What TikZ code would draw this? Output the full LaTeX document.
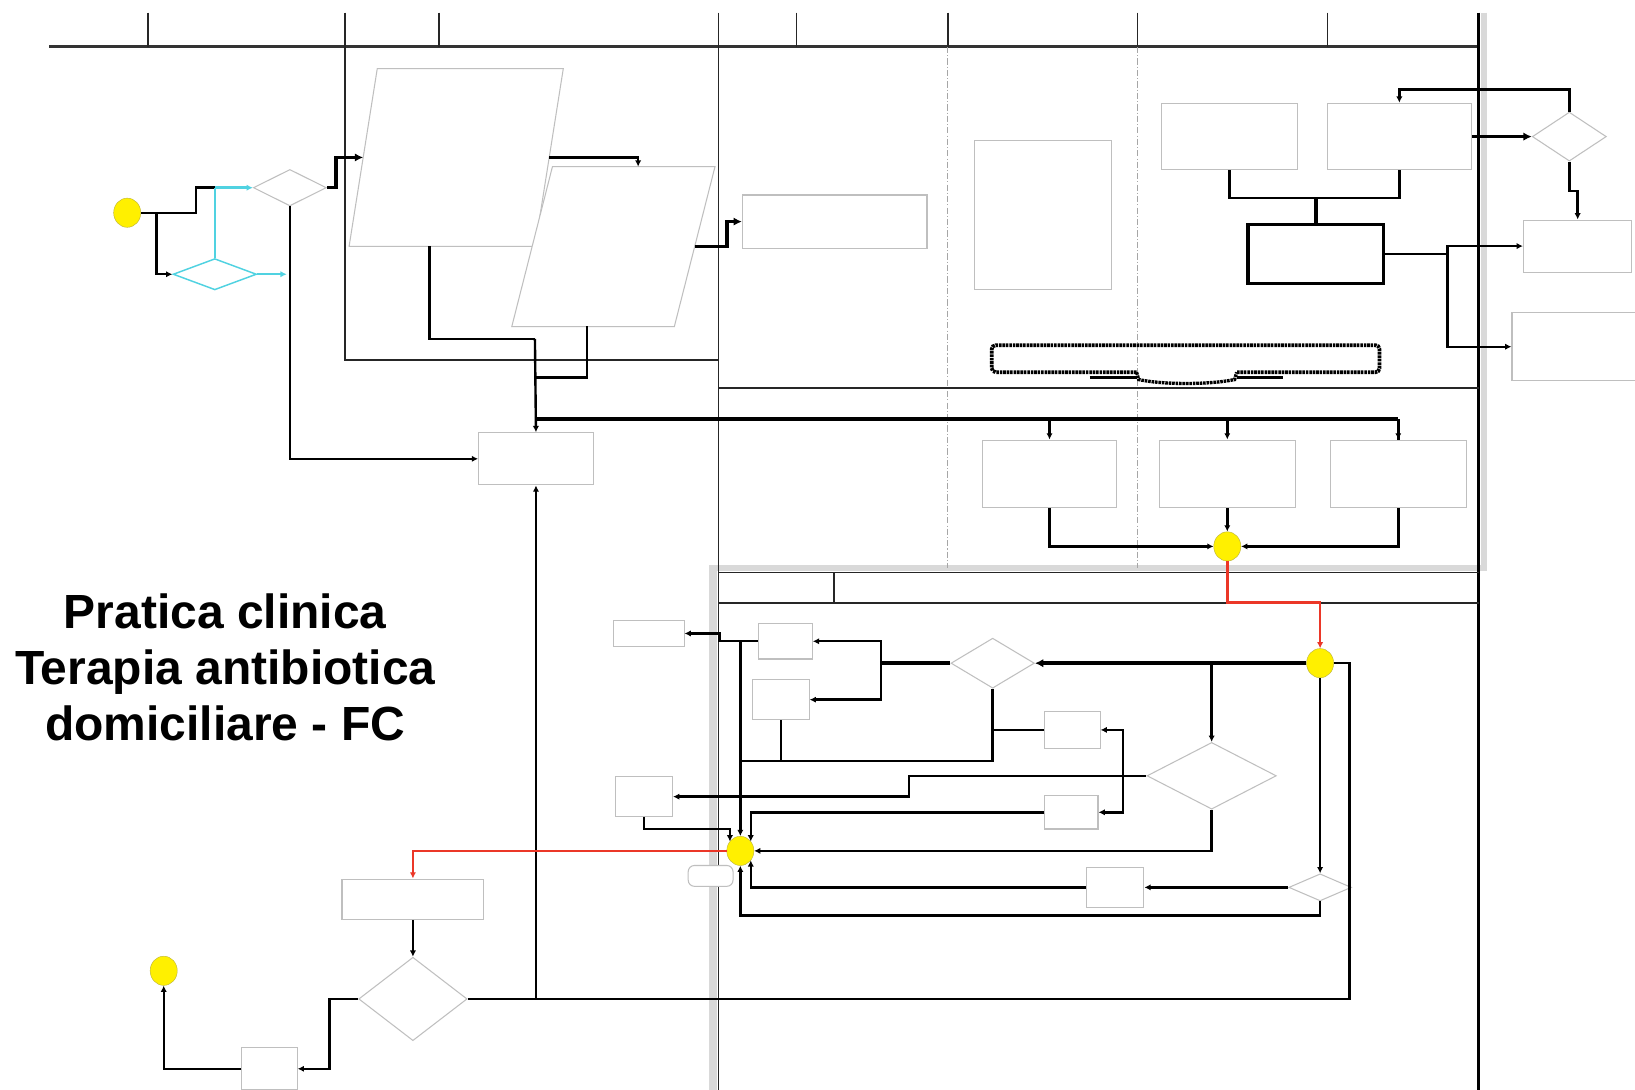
\documentclass[tikz,border=0pt]{standalone}
\usepackage{fontspec}
\setmainfont{Liberation Sans}
\usetikzlibrary{shapes.geometric, arrows.meta}
\definecolor{cyanline}{RGB}{80,210,225}
\definecolor{redline}{RGB}{235,55,40}
\definecolor{yelfill}{RGB}{255,240,0}
\begin{document}
\begin{tikzpicture}[x=1pt,y=-1pt,
  box/.style={draw=gray!50, line width=1pt, inner sep=0pt, fill=white},
  hidden/.style={draw=none, inner sep=0pt},
  pgram/.style={draw=gray!50, line width=1pt},
  dia/.style={diamond, draw=gray!50, line width=1pt, inner sep=0pt, fill=white},
  cdia/.style={diamond, draw=cyanline, line width=1.4pt, inner sep=0pt},
  yel/.style={ellipse, fill=yelfill, draw=yellow!70!black, line width=0.4pt, inner sep=0pt, minimum width=26pt, minimum height=28pt},
  flow/.style={draw, line width=2.3pt, -{Latex[length=6pt,width=6pt]}},
  plain/.style={draw, line width=2.3pt},
  heavy/.style={draw, line width=3.4pt, -{Latex[length=8pt,width=8pt]}},
  cyanflow/.style={draw=cyanline, line width=2.3pt, -{Latex[length=6pt,width=6pt]}},
  redflow/.style={draw=redline, line width=2.4pt, -{Latex[length=6pt,width=6pt]}},
  lane/.style={line width=1.6pt, black!85},
  lanedash/.style={line width=0.7pt, gray!70, dash pattern=on 6pt off 2pt on 1pt off 2pt},
  shade/.style={line width=6pt, gray!30},
]
\useasboundingbox (0,0) rectangle (1568,1045);
\fill[white] (0,0) rectangle (1568,1045);

% ---------- lanes / pools ----------
\draw[shade] (1423,12) -- (1423,548);
\draw[shade] (680,545) -- (1426,545);
\draw[line width=8pt, gray!30] (684,545) -- (684,1045);
\draw[line width=2.8pt, black!80] (47,45) -- (1418,45);
\foreach \xx in {142,421,764,909,1091,1273} \draw[lane] (\xx,12) -- (\xx,45);
\draw[lanedash] (909,45) -- (909,545);
\draw[lanedash] (1091,45) -- (1091,545);
\draw[lane] (331,12) -- (331,345) -- (689,345);
\draw[lane] (689,12) -- (689,1045);
\draw[line width=2.2pt] (1418,12) -- (1418,1045);
\draw[line width=2.4pt, black!85] (689,372) -- (1418,372);
\draw[lane] (689,549) -- (1418,549);
\draw[lane] (689,578) -- (1418,578);
\draw[lane] (800,549) -- (800,578);

% ---------- title ----------
\node[align=center, font=\bfseries\fontsize{46}{54}\selectfont] (title) at (216,640)
  {Pratica clinica\\Terapia antibiotica\\domiciliare - FC};

% ---------- nodes: top pool ----------
\node[yel] (start) at (122,204) {};
\node[dia, minimum width=70pt, minimum height=35pt] (D1) at (278,180) {};
\node[cdia, minimum width=80pt, minimum height=30pt] (DC) at (206,263) {};
\node[hidden, minimum width=178pt, minimum height=170pt] (P1) at (437.5,151) {};
\draw[pgram] ([xshift=-13.5pt]P1.south west) -- ([xshift=13.5pt]P1.north west)
  -- ([xshift=13.5pt]P1.north east) -- ([xshift=-13.5pt]P1.south east) -- cycle;
\node[hidden, minimum width=155.5pt, minimum height=153pt] (P2) at (588.25,236.5) {};
\draw[pgram, fill=white] ([xshift=-19.5pt]P2.south west) -- ([xshift=19.5pt]P2.north west)
  -- ([xshift=19.5pt]P2.north east) -- ([xshift=-19.5pt]P2.south east) -- cycle;
\node[box, minimum width=177pt, minimum height=51pt] (R1) at (800.5,212.5) {};
\node[box, minimum width=110pt, minimum height=50pt] (B1) at (514,440) {};
\node[box, minimum width=131pt, minimum height=143pt] (T1) at (1000.5,206.5) {};
\node[box, minimum width=130pt, minimum height=64pt] (T2) at (1179,131) {};
\node[box, minimum width=138pt, minimum height=64pt] (T3) at (1342,131) {};
\node[draw, line width=3.2pt, inner sep=0pt, minimum width=130pt, minimum height=57pt] (T4) at (1262,243.5) {};
\node[dia, minimum width=71pt, minimum height=47pt] (Dr) at (1505,131) {};
\node[box, minimum width=104pt, minimum height=50pt] (T5) at (1513,236) {};
\node[box, minimum width=118pt, minimum height=65pt] (T6) at (1509,332.5) {};

% dashed brace-like annotation
\node[hidden, minimum width=372pt, minimum height=27pt] (BR) at (1137,344) {};
\draw[line width=3.6pt, dash pattern=on 2.5pt off 0.8pt, rounded corners=4pt]
  (1090,357) -- (951,357) -- (951,331) -- (1323,331) -- (1323,357) -- (1186,357);
\draw[line width=3.2pt, dash pattern=on 2.5pt off 0.8pt]
  (1090,357) -- (1092,364) .. controls (1115,369) and (1160,369) .. (1184,364) -- (1186,357);
\draw[line width=2.2pt] (1045,362) -- (1090,362);
\draw[line width=2.2pt] (1186,362) -- (1230,362);

% ---------- nodes: middle pool ----------
\node[box, minimum width=129pt, minimum height=65pt] (S2a) at (1006.5,454.5) {};
\node[box, minimum width=130pt, minimum height=65pt] (S2b) at (1177,454.5) {};
\node[box, minimum width=130pt, minimum height=65pt] (S2c) at (1341,454.5) {};
\node[yel] (Y1) at (1177,524) {};

% ---------- nodes: lower pool ----------
\node[yel] (Y3) at (1266,636) {};
\node[dia, minimum width=80pt, minimum height=48pt] (D3) at (952,636) {};
\node[box, minimum width=52pt, minimum height=34pt] (M1) at (753,615) {};
\node[box, minimum width=54pt, minimum height=38pt] (M2) at (749,671) {};
\node[box, minimum width=68pt, minimum height=25pt] (L1) at (622,607.5) {};
\node[box, minimum width=53pt, minimum height=36pt] (M3) at (1028.5,700) {};
\node[box, minimum width=51pt, minimum height=32pt] (M4) at (1027.5,779) {};
\node[dia, minimum width=124pt, minimum height=64pt] (D4) at (1162,744) {};
\node[box, minimum width=55pt, minimum height=38pt] (L2) at (617.5,764) {};
\node[yel] (Y2) at (710,816) {};
\node[dia, minimum width=60pt, minimum height=26pt] (D5) at (1266,851) {};
\node[box, minimum width=55pt, minimum height=38pt] (M5) at (1069.5,851) {};
\node[box, rounded corners=6pt, minimum width=43pt, minimum height=20pt] (RL) at (681.5,840) {};
\node[box, minimum width=136pt, minimum height=39pt] (B2) at (396,862.5) {};
\node[dia, minimum width=104pt, minimum height=80pt] (Dend) at (396,958) {};
\node[box, minimum width=53pt, minimum height=40pt] (B3) at (258.5,1025) {};
\node[yel] (Yend) at (157,931) {};

% ---------- helper coordinates ----------
\coordinate (cj) at (206,180);
\coordinate (sj) at (150,204);
\coordinate (p1b) at (412,236);
\coordinate (p2b) at (563,313);
\coordinate (h402) at (0,402);
\coordinate (j513) at (513,402);
\coordinate (j1262) at (1262,190);
\coordinate (j1388) at (1388,243.5);
\coordinate (j845) at (845,636);
\coordinate (j1077) at (1077,744);
\coordinate (j1162) at (1162,636);
\coordinate (y2a) at (700,807);
\coordinate (y2c) at (720,807);
\coordinate (y2d) at (720,825);

% ---------- connectors: top pool ----------
\draw[plain] (start.east) -| (188,180) -- (cj);
\draw[cyanflow] (cj) -- (D1.west);
\draw[draw=cyanline, line width=2.3pt] (cj) -- (DC.north);
\draw[flow] (sj) |- (DC.west);
\draw[cyanflow] (DC.east) -- (275,263);
\draw[flow] (D1.south) |- (B1.west);
\draw[heavy] (D1.east) -- (322,180) |- (P1.west);
\draw[flow] (P1.east) -| ([xshift=23.75pt]P2.north);
\draw[plain] (p1b) |- (513,325);
\draw[flow] (513,325) -- (B1.north);
\draw[plain] (p2b) |- (513,362);
\draw[heavy, -] (j513) -- (1341,402);
\draw[plain] (1341,402) -- (S2c.north);
\draw[flow] (S2a.north |- h402) -- (S2a.north);
\draw[flow] (S2b.north |- h402) -- (S2b.north);
\draw[flow] (1341,402) -- (S2c.north);
\draw[heavy] (P2.east) -- (697,236.5) |- (R1.west);
\draw[plain] (T2.south) |- (j1262) -| (T3.south);
\draw[heavy, -] (j1262) -- (T4.north);
\draw[heavy] (T3.east) -- (Dr.west);
\draw[flow] (Dr.north) |- (1342,86) -- (T3.north);
\draw[flow] (Dr.south) -- (1505,183) -| (T5.north);
\draw[plain] (T4.east) -- (j1388);
\draw[flow] (j1388) |- (T5.west);
\draw[flow] (j1388) |- (T6.west);

% ---------- connectors: middle pool ----------
\draw[flow] (S2a.south) |- (Y1.west);
\draw[flow] (S2b.south) -- (Y1.north);
\draw[flow] (S2c.south) |- (Y1.east);
\draw[redflow] (Y1.south) -- (1177,578) -| (Y3.north);

% ---------- connectors: lower pool ----------
\draw[heavy] (Y3.west) -- (D3.east);
\draw[flow] (j1162) -- (D4.north);
\draw[plain] (Y3.east) -- (1294,636) |- (Dend.east);
\draw[flow] (514,958) -- (B1.south);
\draw[heavy, -] (D3.west) -- (j845);
\draw[flow] (j845) |- (M1.east);
\draw[flow] (j845) |- (M2.east);
\draw[flow] (M1.west) -- (690,615) |- (L1.east);
\draw[flow] (710,615) -- (Y2.north);
\draw[plain] (D3.south) |- (710,730);
\draw[plain] (M2.south) -- (749,730);
\draw[plain] (M3.west) -- (952,700);
\draw[plain] (D4.west) -- (j1077);
\draw[flow] (j1077) |- (M3.east);
\draw[flow] (j1077) |- (M4.east);
\draw[flow] (j1077) -- (872,744) |- (L2.east);
\draw[flow] (M4.west) -| (y2c);
\draw[flow] (L2.south) |- (700,795) -- (y2a);
\draw[flow] (D4.south) |- (Y2.east);
\draw[flow] (Y3.south) -- (D5.north);
\draw[flow] (D5.west) -- (M5.east);
\draw[flow] (M5.west) -| (y2d);
\draw[flow] (D5.south) |- (710,878) -- (Y2.south);
\draw[redflow] (Y2.west) -| (B2.north);
\draw[flow] (B2.south) -- (Dend.north);
\draw[flow] (Dend.west) -- (316,958) |- (B3.east);
\draw[flow] (B3.west) -| (Yend.south);
\end{tikzpicture}
\end{document}
